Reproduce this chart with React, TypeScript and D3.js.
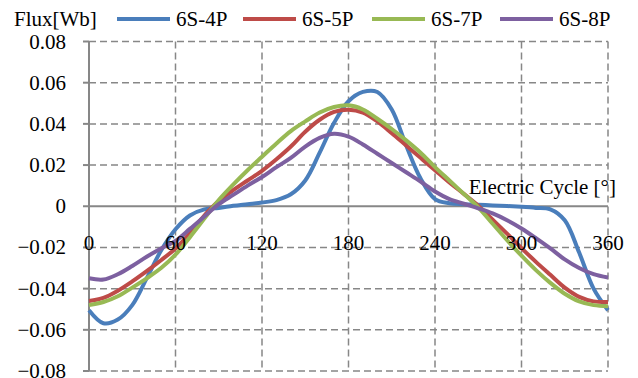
import React, { useEffect, useRef } from "react";
import * as d3 from "d3";

// electric angle, degrees
const angles = d3.range(0, 361, 10);

const flux4P = [
    -0.0505, -0.0568, -0.0550, -0.0480, -0.0350, -0.0215, -0.0112, -0.0045, -0.0015, -0.0008,
    0.0002, 0.0010, 0.0018, 0.0030, 0.0058, 0.0125, 0.0260, 0.0405, 0.0510, 0.0555,
    0.0555, 0.0470, 0.0295, 0.0135, 0.0035, 0.0015, 0.0010, 0.0007, 0.0004, 0.0001,
    -0.0003, -0.0008, -0.0015, -0.0068, -0.0225, -0.0400, -0.0505,
];
const flux5P = [
    -0.0460, -0.0445, -0.0410, -0.0365, -0.0315, -0.0262, -0.0205, -0.0130, -0.0045, 0.0025,
    0.0078, 0.0125, 0.0172, 0.0228, 0.0290, 0.0362, 0.0420, 0.0458, 0.0469, 0.0455,
    0.0412, 0.0355, 0.0295, 0.0235, 0.0175, 0.0115, 0.0060, 0.0003, -0.0065, -0.0133,
    -0.0203, -0.0270, -0.0333, -0.0395, -0.0440, -0.0462, -0.0465,
];
const flux7P = [
    -0.0480, -0.0465, -0.0437, -0.0395, -0.0350, -0.0300, -0.0235, -0.0150, -0.0060, 0.0030,
    0.0105, 0.0175, 0.0240, 0.0305, 0.0365, 0.0412, 0.0455, 0.0482, 0.0490, 0.0470,
    0.0425, 0.0375, 0.0320, 0.0260, 0.0190, 0.0125, 0.0060, -0.0005, -0.0085, -0.0165,
    -0.0240, -0.0310, -0.0372, -0.0425, -0.0462, -0.0480, -0.0485,
];
const flux8P = [
    -0.0350, -0.0356, -0.0330, -0.0290, -0.0245, -0.0205, -0.0168, -0.0110, -0.0050, 0.0010,
    0.0055, 0.0100, 0.0142, 0.0190, 0.0235, 0.0290, 0.0332, 0.0352, 0.0338, 0.0300,
    0.0255, 0.0210, 0.0165, 0.0120, 0.0072, 0.0035, 0.0012, -0.0010, -0.0035, -0.0068,
    -0.0108, -0.0155, -0.0205, -0.0258, -0.0300, -0.0330, -0.0346,
];

const seriesNames = ["6S-4P", "6S-5P", "6S-7P", "6S-8P"];
const seriesValues = [flux4P, flux5P, flux7P, flux8P];
const seriesColors = ["#4a7ebb", "#be4b48", "#98b954", "#7d60a0"];

const xTicks = [0, 60, 120, 180, 240, 300, 360];
const yTicks = [-0.08, -0.06, -0.04, -0.02, 0, 0.02, 0.04, 0.06, 0.08];

const W = 638;
const H = 378;
const FONT = "'Liberation Serif', 'Times New Roman', serif";
const FONT_SIZE = 21;
const GRID = "#878787";

export default function App() {
    const svgRef = useRef<SVGSVGElement | null>(null);

    useEffect(() => {
        if (!svgRef.current) return;
        const svg = d3.select(svgRef.current);
        svg.selectAll("*").remove();

        const x = d3.scaleLinear().domain([0, 360]).range([89, 608]);
        const y = d3.scaleLinear().domain([-0.08, 0.08]).range([371, 41.5]);

        // dashed grid
        const grid = svg.append("g")
            .attr("stroke", GRID)
            .attr("stroke-width", 1.5)
            .attr("stroke-dasharray", "7,4");
        grid.selectAll("line.h")
            .data(yTicks.filter(d => d !== 0))
            .join("line")
            .attr("class", "h")
            .attr("x1", x(0)).attr("x2", x(360))
            .attr("y1", d => y(d)).attr("y2", d => y(d));
        grid.selectAll("line.v")
            .data(xTicks.slice(1))
            .join("line")
            .attr("class", "v")
            .attr("x1", d => x(d)).attr("x2", d => x(d))
            .attr("y1", y(0.08)).attr("y2", y(-0.08));

        // solid axes, y ticks pointing out
        const axes = svg.append("g").attr("stroke", GRID).attr("stroke-width", 2);
        axes.append("line")
            .attr("x1", x(0)).attr("x2", x(0))
            .attr("y1", y(0.08)).attr("y2", y(-0.08));
        axes.append("line")
            .attr("x1", x(0)).attr("x2", x(360))
            .attr("y1", y(0)).attr("y2", y(0));
        axes.selectAll("line.yt")
            .data(yTicks)
            .join("line")
            .attr("class", "yt")
            .attr("x1", x(0) - 6).attr("x2", x(0))
            .attr("y1", d => y(d)).attr("y2", d => y(d));

        // series
        const line = d3.line<number>()
            .x((_, i) => x(angles[i]))
            .y(d => y(d))
            .curve(d3.curveCatmullRom.alpha(0.5));
        svg.append("g")
            .selectAll("path")
            .data(seriesValues)
            .join("path")
            .attr("d", d => line(d))
            .attr("fill", "none")
            .attr("stroke", (_, i) => seriesColors[i])
            .attr("stroke-width", 4)
            .attr("stroke-linejoin", "round")
            .attr("stroke-linecap", "butt");

        const text = svg.append("g")
            .attr("font-family", FONT)
            .attr("font-size", FONT_SIZE)
            .attr("fill", "#000");

        // y tick labels
        text.selectAll("text.yl")
            .data(yTicks)
            .join("text")
            .attr("class", "yl")
            .attr("x", 66)
            .attr("y", d => y(d) + 7)
            .attr("text-anchor", "end")
            .text(d => (d === 0 ? "0" : d3.format(".2f")(d)));

        // x tick labels, sitting on the -0.02 line
        text.selectAll("text.xl")
            .data(xTicks)
            .join("text")
            .attr("class", "xl")
            .attr("x", d => x(d))
            .attr("y", 250)
            .attr("text-anchor", "middle")
            .text(d => d);

        text.append("text")
            .attr("x", 616)
            .attr("y", 194)
            .attr("text-anchor", "end")
            .text("Electric Cycle [°]");

        // legend
        text.append("text").attr("x", 14).attr("y", 26).text("Flux[Wb]");
        const legendX = [117, 243, 372, 500];
        const legend = svg.append("g")
            .selectAll("g")
            .data(seriesNames)
            .join("g")
            .attr("transform", (_, i) => `translate(${legendX[i]},19)`);
        legend.append("line")
            .attr("x1", 0).attr("x2", 53)
            .attr("stroke", (_, i) => seriesColors[i])
            .attr("stroke-width", 4);
        legend.append("text")
            .attr("x", 59)
            .attr("y", 7)
            .attr("font-family", FONT)
            .attr("font-size", FONT_SIZE)
            .text(d => d);
    }, []);

    return (
        <svg
            ref={svgRef}
            width={W}
            height={H}
            style={{ position: "absolute", left: 0, top: 0, background: "#fff" }}
        />
    );
}
